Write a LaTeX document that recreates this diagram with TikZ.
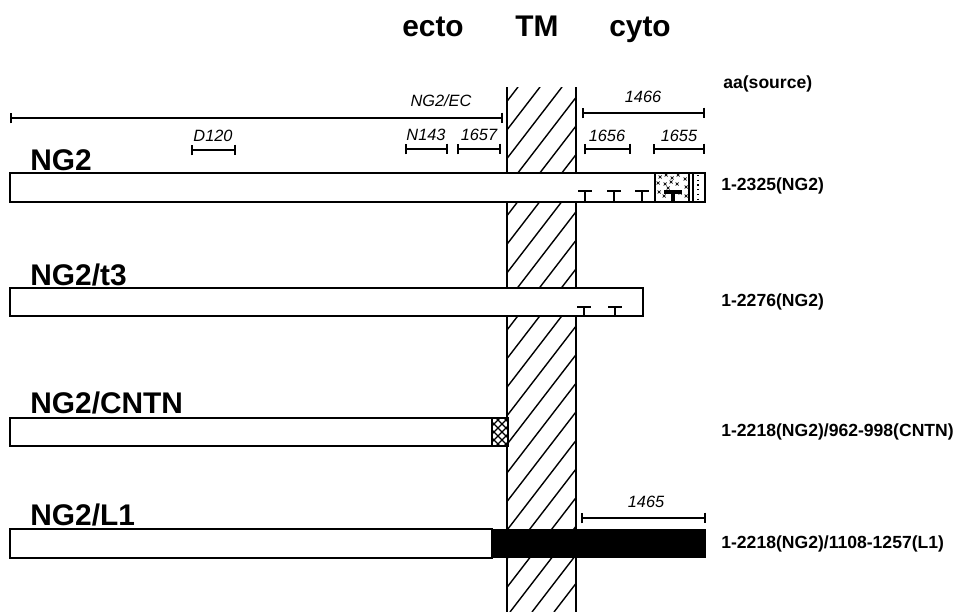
\documentclass[tikz,border=0pt]{standalone}
\usepackage{fontspec}
\setmainfont{Liberation Sans}
\usetikzlibrary{arrows.meta}

\begin{document}
\begin{tikzpicture}[
  x=0.02cm, y=-0.02cm,
  head/.style={font=\fontsize{17}{20}\selectfont\bfseries, anchor=base, inner sep=0},
  rowlabel/.style={font=\fontsize{17}{20}\selectfont\bfseries, anchor=base west, inner sep=0},
  source/.style={font=\fontsize{10}{12}\selectfont\bfseries, anchor=west, inner sep=0},
  tag/.style={font=\fontsize{9.3}{11}\selectfont\itshape, anchor=base, inner sep=0},
  aaspan/.style={{Bar[width=6pt]}-{Bar[width=6pt]}, line width=1.1pt},
  bar/.style={draw, line width=1pt, fill=white},
  hatch/.style={line width=0.8pt},
  tmark/.style={line width=1.2pt}
]
\useasboundingbox (0,0) rectangle (961,612);

% column heads
\node[head] (ecto) at (433,36) {ecto};
\node[head] (tm) at (537,36) {TM};
\node[head] (cyto) at (640,36) {cyto};
\node[source] (src) at (723,84) {aa(source)};

% membrane band
\begin{scope}
  \clip (507,87) rectangle (576,612);
  \foreach \i in {0,...,24}
    \draw[hatch] (70+22*\i,612) -- ++(404,-525);
\end{scope}
\draw[line width=1pt] (507,87) -- (507,612) (576,87) -- (576,612);

% antibody / fragment spans
\draw[aaspan] (10,118) -- (503,118);
\node[tag] (ec) at (441,106) {NG2/EC};
\draw[aaspan] (191,150) -- (236,150);
\node[tag] (d120) at (213,141) {D120};
\draw[aaspan] (405,149) -- (448,149);
\node[tag] (n143) at (426,140) {N143};
\draw[aaspan] (457,149) -- (501,149);
\node[tag] (a1657) at (479,140) {1657};
\draw[aaspan] (582,113) -- (705,113);
\node[tag] (a1466) at (643,102) {1466};
\draw[aaspan] (584,149) -- (631,149);
\node[tag] (a1656) at (607,141) {1656};
\draw[aaspan] (653,149) -- (705,149);
\node[tag] (a1655) at (679,141) {1655};
\draw[aaspan] (581,518) -- (706,518);
\node[tag] (a1465) at (646,507) {1465};

% NG2
\node[rowlabel] (ng2) at (30,170) {NG2};
\draw[bar] (10,173) rectangle (705,202);
\draw[line width=0.9pt] (655,173) -- (655,202) (689,173) -- (689,202) (693,173) -- (693,202);
\draw[dotted, line width=0.7pt] (698,175) -- (698,201);
\foreach \px/\py in {660/177,666/175,672/178,678/175,685/179,658/183,665/184,671/182,677/184,686/187,659/192,664/196,680/193,686/196,668/188}
  \draw[line width=0.4pt] (\px-1.5,\py-1.5) -- (\px+1.5,\py+1.5) (\px-1.5,\py+1.5) -- (\px+1.5,\py-1.5);
\foreach \tx in {585,614,642}
  \draw[tmark] (\tx,202) -- (\tx,191) (\tx-7,191) -- (\tx+7,191);
\draw[line width=2.2pt] (673,202) -- (673,192) (664,192) -- (682,192);
\node[source] (ng2src) at (721,186) {1-2325(NG2)};

% NG2/t3
\node[rowlabel] (t3) at (30,285) {NG2/t3};
\draw[bar] (10,288) rectangle (643,316);
\foreach \tx in {584,615}
  \draw[tmark] (\tx,316) -- (\tx,307) (\tx-7,307) -- (\tx+7,307);
\node[source] (t3src) at (721,302) {1-2276(NG2)};

% NG2/CNTN
\node[rowlabel] (cntn) at (30,413) {NG2/CNTN};
\draw[bar] (10,418) rectangle (508,446);
\begin{scope}
  \clip (492,418) rectangle (508,446);
  \foreach \i in {0,...,6} {
    \draw[line width=0.7pt] (464+8*\i,446) -- ++(30,-30);
    \draw[line width=0.7pt] (464+8*\i,418) -- ++(30,30);
  }
\end{scope}
\draw[line width=1pt] (492,418) -- (492,446);
\node[source] (cntnsrc) at (721,432) {1-2218(NG2)/962-998(CNTN)};

% NG2/L1
\node[rowlabel] (l1) at (30,525) {NG2/L1};
\draw[bar] (10,529) rectangle (492,558);
\fill[black] (492,529) rectangle (706,558);
\node[source] (l1src) at (721,544) {1-2218(NG2)/1108-1257(L1)};
\end{tikzpicture}
\end{document}
